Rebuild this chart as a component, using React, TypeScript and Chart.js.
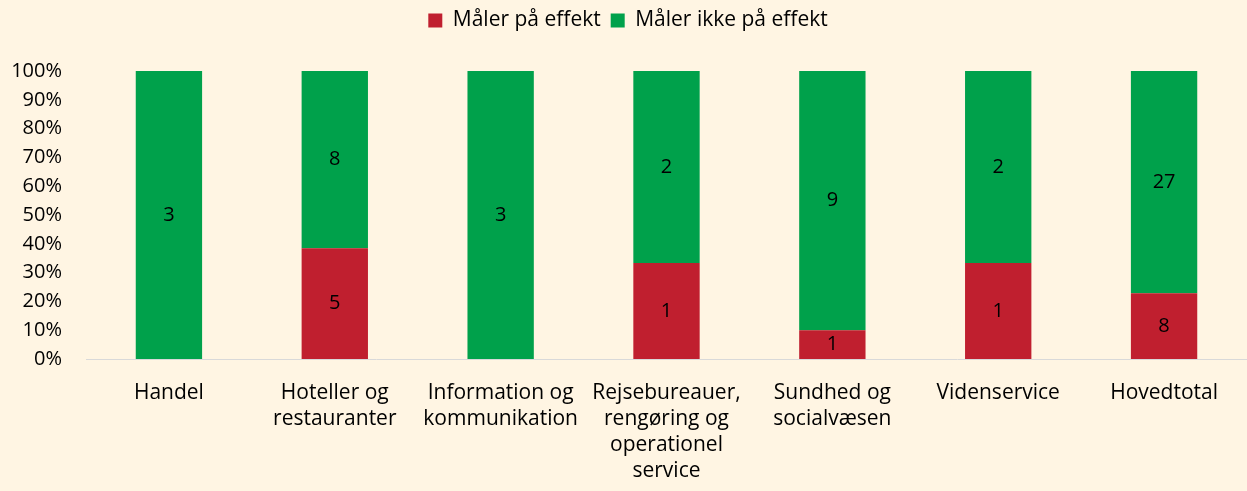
import React, { useEffect, useRef } from "react";
import { Chart, registerables } from "chart.js";

Chart.register(...registerables);

const categories: (string | string[])[] = [
  "Handel",
  ["Hoteller og", "restauranter"],
  ["Information og", "kommunikation"],
  ["Rejsebureauer,", "rengøring og", "operationel", "service"],
  ["Sundhed og", "socialvæsen"],
  "Videnservice",
  "Hovedtotal",
];
const maalerCounts = [0, 5, 0, 1, 1, 1, 8];
const ikkeCounts = [3, 8, 3, 2, 9, 2, 27];
const yTicks = [0, 10, 20, 30, 40, 50, 60, 70, 80, 90, 100];

const RED = "#C01F2F";
const GREEN = "#00A14B";
const BG = "#FFF5E3";
const FONT = "'Open Sans', 'Noto Sans', sans-serif";
const FS = 20;

const totals = maalerCounts.map((v, i) => v + ikkeCounts[i]);
const pct = (arr: number[]) => arr.map((v, i) => (v / totals[i]) * 100);

const labelPlugin = {
  id: "segLabels",
  afterDatasetsDraw(chart: any) {
    const ctx = chart.ctx;
    ctx.save();
    ctx.font = `${FS}px ${FONT}`;
    ctx.fillStyle = "#000";
    ctx.textAlign = "center";
    ctx.textBaseline = "middle";
    chart.data.datasets.forEach((ds: any, di: number) => {
      const meta = chart.getDatasetMeta(di);
      meta.data.forEach((bar: any, i: number) => {
        const c = ds.counts[i];
        if (!c) return;
        const y = (bar.y + bar.base) / 2;
        ctx.fillText(String(c), bar.x, y);
      });
    });
    ctx.restore();
  },
};

const legendMargin = {
  id: "legendMargin",
  beforeInit(chart: any) {
    const legend = chart.legend;
    if (!legend) return;
    const fit = legend.fit;
    legend.fit = function () {
      fit.call(this);
      this.height = 71;
    };
  },
};

export default function App() {
  const ref = useRef<HTMLCanvasElement>(null);
  useEffect(() => {
    document.body.style.margin = "0";
    document.body.style.background = BG;
    const chart = new Chart(ref.current!, {
      type: "bar",
      data: {
        labels: categories,
        datasets: [
          {
            label: "Måler på effekt",
            data: pct(maalerCounts),
            backgroundColor: RED,
            counts: maalerCounts,
          } as any,
          {
            label: "Måler ikke på effekt",
            data: pct(ikkeCounts),
            backgroundColor: GREEN,
            counts: ikkeCounts,
          } as any,
        ],
      },
      options: {
        responsive: false,
        animation: false,
        layout: { padding: { top: 0, right: 0, left: 9, bottom: 0 } },
        datasets: { bar: { barPercentage: 0.4, categoryPercentage: 1 } },
        plugins: {
          legend: {
            position: "top",
            labels: {
              boxWidth: 14,
              boxHeight: 14,
              padding: 10,
              color: "#000",
              font: { family: FONT, size: 21 },
            },
          },
          tooltip: { enabled: false },
        },
        scales: {
          x: {
            stacked: true,
            grid: { display: false, drawTicks: false },
            border: { display: true, color: "#D9D9D9", width: 1 },
            afterFit: (axis: any) => {
              axis.height = 132;
            },
            ticks: {
              color: "#000",
              font: { family: FONT, size: 21, lineHeight: 1.24 },
              maxRotation: 0,
              autoSkip: false,
              padding: 21,
            },
          },
          y: {
            stacked: true,
            min: 0,
            max: 100,
            afterBuildTicks: (axis: any) => {
              axis.ticks = yTicks.map((v) => ({ value: v }));
            },
            afterFit: (axis: any) => {
              axis.width = 77;
            },
            grid: { display: false, drawTicks: false },
            border: { display: false },
            ticks: {
              color: "#000",
              font: { family: FONT, size: FS },
              padding: 24,
              autoSkip: false,
              callback: (v: any) => `${v}%`,
            },
          },
        },
      },
      plugins: [labelPlugin, legendMargin],
    });
    return () => chart.destroy();
  }, []);
  return (
    <div style={{ width: 1247, height: 491, background: BG }}>
      <canvas ref={ref} width={1247} height={491} />
    </div>
  );
}
